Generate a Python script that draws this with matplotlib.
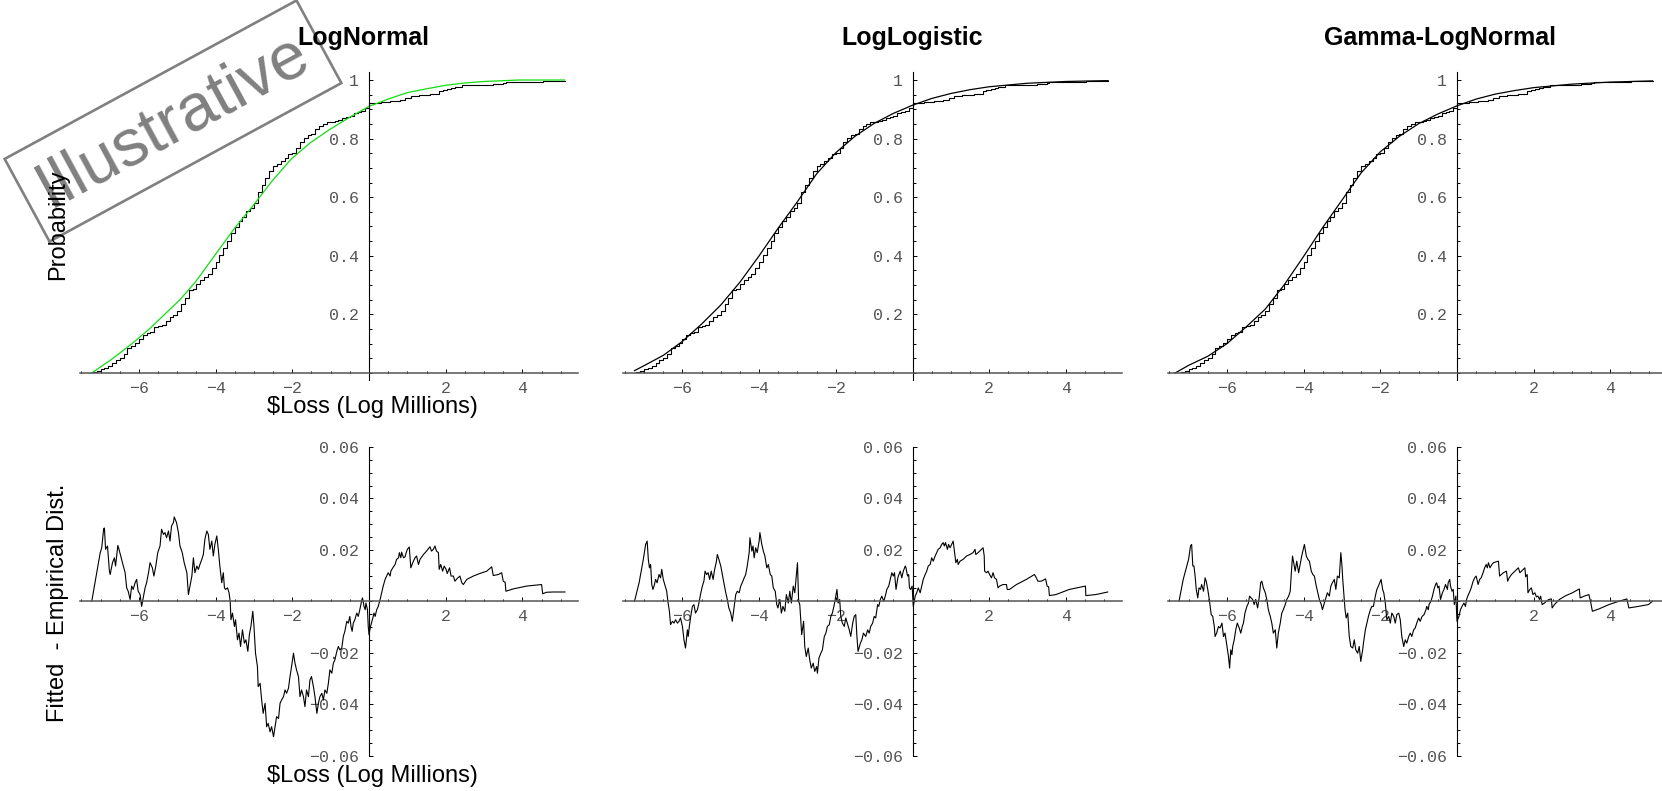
import numpy as np
import matplotlib.pyplot as plt
from matplotlib.ticker import MultipleLocator

W, H = 1662, 791

titles = ['LogNormal', 'LogLogistic', 'Gamma-LogNormal']
x_label = r'\$Loss (Log Millions)'
top_ylabel = 'Probability'
bottom_ylabel = 'Fitted  - Empirical Dist.'
watermark = 'Illustrative'

x_ticks = [-6, -4, -2, 2, 4]
x_ticklabels = ['\u22126', '\u22124', '\u22122', '2', '4']
top_yticks = [0.2, 0.4, 0.6, 0.8, 1.0]
top_yticklabels = ['0.2', '0.4', '0.6', '0.8', '1']
bottom_yticks = [-0.06, -0.04, -0.02, 0.02, 0.04, 0.06]
bottom_yticklabels = ['\u22120.06', '\u22120.04', '\u22120.02', '0.02', '0.04', '0.06']

# empirical distribution of the log losses (same sample in all three panels)
emp_x = [-7.2, -7.1, -7.0, -6.9, -6.8, -6.7, -6.6, -6.5, -6.4, -6.3,
         -6.2, -6.1, -6.0, -5.9, -5.8, -5.7, -5.6, -5.5, -5.4, -5.3,
         -5.2, -5.1, -5.0, -4.9, -4.8, -4.7, -4.6, -4.5, -4.4, -4.3,
         -4.2, -4.1, -4.0, -3.9, -3.8, -3.7, -3.6, -3.5, -3.4, -3.3,
         -3.2, -3.1, -3.0, -2.9, -2.8, -2.7, -2.6, -2.5, -2.4, -2.3,
         -2.2, -2.1, -2.0, -1.9, -1.8, -1.7, -1.6, -1.5, -1.4, -1.3,
         -1.2, -1.1, -1.0, -0.9, -0.8, -0.7, -0.6, -0.5, -0.4, -0.3,
         -0.2, -0.1, 0.0, 0.3, 0.55, 0.8, 0.95, 1.09, 1.3, 1.6,
         1.83, 1.92, 2.04, 2.14, 2.24, 2.42, 3.24, 3.5, 3.57, 4.53, 5.1]
emp_p = [0.003, 0.008, 0.012, 0.016, 0.024, 0.034, 0.044, 0.050, 0.065, 0.084,
         0.093, 0.102, 0.117, 0.130, 0.135, 0.140, 0.156, 0.159, 0.164, 0.178,
         0.192, 0.199, 0.213, 0.237, 0.257, 0.282, 0.286, 0.302, 0.316, 0.326,
         0.339, 0.360, 0.378, 0.403, 0.425, 0.449, 0.479, 0.499, 0.519, 0.533,
         0.554, 0.564, 0.580, 0.617, 0.642, 0.666, 0.688, 0.707, 0.715, 0.724,
         0.735, 0.749, 0.752, 0.767, 0.789, 0.802, 0.811, 0.815, 0.832, 0.842,
         0.850, 0.855, 0.858, 0.861, 0.865, 0.871, 0.873, 0.877, 0.886, 0.891,
         0.895, 0.905, 0.923, 0.925, 0.928, 0.933, 0.937, 0.946, 0.949, 0.953,
         0.962, 0.966, 0.971, 0.974, 0.977, 0.982, 0.987, 0.991, 0.994, 0.997, 0.997]

# fitted distribution functions
lognormal_x = [-7.23, -6.73, -6.18, -5.73, -5.33, -4.93, -4.53, -4.03, -3.53, -3.03,
               -2.53, -2.03, -1.54, -1.04, -0.54, 0.0, 0.5, 1.0, 1.5, 2.0,
               2.5, 3.0, 3.9, 5.1]
lognormal_p = [0.0, 0.045, 0.10, 0.15, 0.20, 0.25, 0.31, 0.40, 0.49, 0.57,
               0.655, 0.73, 0.785, 0.83, 0.87, 0.91, 0.935, 0.957, 0.97, 0.982,
               0.99, 0.995, 1.0, 1.0]
loglogistic_x = [-7.25, -7.0, -6.5, -6.0, -5.5, -5.0, -4.5, -4.0, -3.5, -3.0,
                 -2.5, -2.0, -1.5, -1.0, -0.5, 0.0, 0.5, 1.0, 1.5, 2.0,
                 3.0, 4.0, 5.1]
loglogistic_p = [0.008, 0.025, 0.06, 0.108, 0.167, 0.232, 0.31, 0.40, 0.495, 0.585,
                 0.68, 0.752, 0.808, 0.852, 0.886, 0.914, 0.937, 0.954, 0.967, 0.977,
                 0.989, 0.995, 0.998]
gamma_lognormal_x = [-7.35, -7.0, -6.5, -6.0, -5.5, -5.0, -4.5, -4.0, -3.5, -3.0,
                     -2.5, -2.0, -1.5, -1.0, -0.5, 0.0, 0.5, 1.0, 1.5, 2.0,
                     3.0, 4.0, 5.1]
gamma_lognormal_p = [0.0, 0.026, 0.057, 0.10, 0.157, 0.218, 0.302, 0.398, 0.497, 0.59,
                     0.683, 0.755, 0.808, 0.851, 0.884, 0.912, 0.935, 0.952, 0.964, 0.974,
                     0.986, 0.993, 0.997]

# fitted minus empirical, (x, difference)
lognormal_diff = np.array([
    (-7.23, 0.0), (-7.13, 0.0085), (-7.01, 0.0189), (-6.97, 0.0208), (-6.92, 0.0282),
    (-6.90, 0.0285), (-6.87, 0.0202), (-6.82, 0.0215), (-6.80, 0.0176), (-6.77, 0.0117),
    (-6.75, 0.0104), (-6.69, 0.0150), (-6.64, 0.0169), (-6.61, 0.0137), (-6.55, 0.0217),
    (-6.52, 0.0202), (-6.47, 0.0173), (-6.43, 0.0150), (-6.36, 0.0111), (-6.32, 0.0052),
    (-6.28, 0.0039), (-6.23, 0.0007), (-6.19, 0.0059), (-6.15, 0.0046), (-6.10, 0.0072),
    (-6.06, 0.0085), (-6.02, 0.0039), (-5.97, 0.0026), (-5.93, -0.0020), (-5.88, 0.0020),
    (-5.84, 0.0052), (-5.80, 0.0072), (-5.75, 0.0111), (-5.71, 0.0150), (-5.65, 0.0130),
    (-5.61, 0.0098), (-5.56, 0.0137), (-5.51, 0.0189), (-5.45, 0.0215), (-5.41, 0.0280),
    (-5.36, 0.0260), (-5.32, 0.0267), (-5.28, 0.0247), (-5.23, 0.0273), (-5.19, 0.0234),
    (-5.15, 0.0293), (-5.10, 0.0306), (-5.08, 0.0328), (-5.02, 0.0306), (-4.97, 0.0267),
    (-4.93, 0.0215), (-4.87, 0.0189), (-4.82, 0.0150), (-4.75, 0.0111), (-4.71, 0.0026),
    (-4.67, 0.0059), (-4.62, 0.0098), (-4.58, 0.0169), (-4.54, 0.0111), (-4.49, 0.0137),
    (-4.45, 0.0124), (-4.41, 0.0143), (-4.36, 0.0163), (-4.32, 0.0182), (-4.28, 0.0241),
    (-4.23, 0.0273), (-4.19, 0.0260), (-4.15, 0.0202), (-4.10, 0.0234), (-4.06, 0.0176),
    (-4.02, 0.0221), (-3.97, 0.0254), (-3.93, 0.0202), (-3.89, 0.0137), (-3.84, 0.0072),
    (-3.80, 0.0111), (-3.77, 0.0052), (-3.74, 0.0046), (-3.69, 0.0052), (-3.65, 0.0033),
    (-3.62, 0.0), (-3.60, -0.0072), (-3.56, -0.0046), (-3.51, -0.0098), (-3.48, -0.0072),
    (-3.43, -0.0150), (-3.39, -0.0124), (-3.35, -0.0176), (-3.30, -0.0111), (-3.25, -0.0163),
    (-3.21, -0.0150), (-3.16, -0.0195), (-3.12, -0.0130), (-3.08, -0.0098), (-3.03, -0.0039),
    (-3.00, -0.0098), (-2.96, -0.0202), (-2.91, -0.0254), (-2.89, -0.0332), (-2.84, -0.0319),
    (-2.80, -0.0384), (-2.76, -0.0436), (-2.71, -0.0397), (-2.67, -0.0488), (-2.63, -0.0475),
    (-2.58, -0.0508), (-2.54, -0.0488), (-2.49, -0.0527), (-2.45, -0.0488), (-2.41, -0.0449),
    (-2.36, -0.0456), (-2.32, -0.0397), (-2.28, -0.0384), (-2.23, -0.0371), (-2.19, -0.0345),
    (-2.15, -0.0358), (-2.10, -0.0338), (-2.06, -0.0293), (-2.02, -0.0254), (-1.97, -0.0202),
    (-1.93, -0.0241), (-1.89, -0.0267), (-1.84, -0.0293), (-1.80, -0.0371), (-1.76, -0.0345),
    (-1.71, -0.0371), (-1.67, -0.0410), (-1.63, -0.0345), (-1.58, -0.0371), (-1.54, -0.0306),
    (-1.50, -0.0293), (-1.45, -0.0332), (-1.41, -0.0371), (-1.36, -0.0436), (-1.32, -0.0397),
    (-1.28, -0.0371), (-1.23, -0.0358), (-1.19, -0.0384), (-1.15, -0.0345), (-1.10, -0.0358),
    (-1.06, -0.0319), (-1.02, -0.0267), (-0.97, -0.0280), (-0.93, -0.0241), (-0.89, -0.0228),
    (-0.84, -0.0195), (-0.80, -0.0176), (-0.76, -0.0189), (-0.71, -0.0182), (-0.67, -0.0137),
    (-0.63, -0.0117), (-0.58, -0.0078), (-0.54, -0.0085), (-0.50, -0.0059), (-0.47, -0.0098),
    (-0.44, -0.0117), (-0.41, -0.0085), (-0.37, -0.0072), (-0.32, -0.0046), (-0.28, -0.0059),
    (-0.24, -0.0033), (-0.19, 0.0004), (-0.17, 0.0013), (-0.13, -0.0020), (-0.10, -0.0033),
    (-0.08, -0.0007), (-0.04, -0.0033), (-0.02, -0.0098), (0.00, -0.0130), (0.04, -0.0098),
    (0.10, -0.0065), (0.13, -0.0046), (0.16, -0.0059), (0.20, -0.0033), (0.24, -0.0020),
    (0.29, 0.0007), (0.33, 0.0033), (0.37, 0.0059), (0.42, 0.0085), (0.46, 0.0098),
    (0.50, 0.0111), (0.55, 0.0098), (0.57, 0.0117), (0.62, 0.0130), (0.68, 0.0143),
    (0.72, 0.0163), (0.77, 0.0169), (0.79, 0.0189), (0.83, 0.0169), (0.85, 0.0191),
    (0.90, 0.0169), (0.94, 0.0173), (0.97, 0.0189), (1.00, 0.0202), (1.05, 0.0211),
    (1.09, 0.0130), (1.14, 0.0150), (1.20, 0.0169), (1.24, 0.0176), (1.29, 0.0143),
    (1.33, 0.0163), (1.42, 0.0182), (1.50, 0.0195), (1.59, 0.0212), (1.63, 0.0195),
    (1.68, 0.0202), (1.72, 0.0215), (1.76, 0.0195), (1.81, 0.0189), (1.83, 0.0124),
    (1.87, 0.0143), (1.92, 0.0117), (1.96, 0.0137), (2.01, 0.0124), (2.04, 0.0108),
    (2.10, 0.0130), (2.14, 0.0098), (2.20, 0.0098), (2.24, 0.0078), (2.29, 0.0087),
    (2.37, 0.0098), (2.42, 0.0072), (2.46, 0.0065), (2.55, 0.0085), (2.72, 0.0098),
    (2.89, 0.0108), (3.07, 0.0117), (3.20, 0.0134), (3.24, 0.0100), (3.37, 0.0104),
    (3.46, 0.0111), (3.50, 0.0078), (3.55, 0.0074), (3.57, 0.0039), (3.76, 0.0048),
    (4.11, 0.0059), (4.50, 0.0065), (4.53, 0.0029), (4.63, 0.0035), (4.81, 0.0036),
    (5.11, 0.0036)])

loglogistic_diff = np.array([
    (-7.25, 0.0), (-7.13, 0.0072), (-7.02, 0.0163), (-6.96, 0.0221), (-6.92, 0.0234),
    (-6.89, 0.0163), (-6.86, 0.0130), (-6.83, 0.0143), (-6.80, 0.0065), (-6.77, 0.0046),
    (-6.74, 0.0059), (-6.70, 0.0085), (-6.66, 0.0072), (-6.61, 0.0104), (-6.57, 0.0091),
    (-6.54, 0.0124), (-6.50, 0.0085), (-6.46, 0.0065), (-6.41, 0.0039), (-6.38, 0.0),
    (-6.34, -0.0039), (-6.31, -0.0091), (-6.26, -0.0078), (-6.22, -0.0085), (-6.18, -0.0072),
    (-6.13, -0.0085), (-6.09, -0.0078), (-6.05, -0.0065), (-6.00, -0.0098), (-5.96, -0.0150),
    (-5.92, -0.0182), (-5.87, -0.0111), (-5.85, -0.0137), (-5.82, -0.0098), (-5.79, -0.0065),
    (-5.74, -0.0020), (-5.70, -0.0013), (-5.66, -0.0046), (-5.61, -0.0033), (-5.57, -0.0007),
    (-5.52, 0.0033), (-5.48, 0.0059), (-5.44, 0.0078), (-5.41, 0.0117), (-5.37, 0.0104),
    (-5.33, 0.0111), (-5.29, 0.0085), (-5.25, 0.0117), (-5.20, 0.0085), (-5.16, 0.0124),
    (-5.12, 0.0150), (-5.09, 0.0182), (-5.05, 0.0163), (-5.00, 0.0137), (-4.96, 0.0104),
    (-4.92, 0.0072), (-4.87, 0.0033), (-4.83, 0.0007), (-4.79, -0.0026), (-4.74, -0.0046),
    (-4.70, -0.0078), (-4.65, -0.0020), (-4.61, 0.0026), (-4.57, 0.0039), (-4.52, 0.0033),
    (-4.48, 0.0059), (-4.44, 0.0072), (-4.39, 0.0091), (-4.35, 0.0104), (-4.31, 0.0137),
    (-4.26, 0.0189), (-4.24, 0.0247), (-4.19, 0.0195), (-4.16, 0.0215), (-4.13, 0.0169),
    (-4.09, 0.0208), (-4.05, 0.0189), (-4.00, 0.0234), (-3.98, 0.0267), (-3.93, 0.0221),
    (-3.89, 0.0195), (-3.85, 0.0176), (-3.80, 0.0130), (-3.76, 0.0143), (-3.71, 0.0104),
    (-3.67, 0.0098), (-3.63, 0.0052), (-3.58, 0.0039), (-3.54, -0.0013), (-3.51, -0.0026),
    (-3.46, 0.0007), (-3.42, -0.0046), (-3.38, -0.0020), (-3.33, -0.0039), (-3.29, 0.0026),
    (-3.24, -0.0007), (-3.20, 0.0039), (-3.16, -0.0007), (-3.11, 0.0059), (-3.07, 0.0033),
    (-3.03, 0.0098), (-3.00, 0.0150), (-2.97, 0.0), (-2.94, -0.0013), (-2.91, -0.0085),
    (-2.89, -0.0130), (-2.84, -0.0078), (-2.81, -0.0176), (-2.77, -0.0215), (-2.72, -0.0182),
    (-2.68, -0.0228), (-2.64, -0.0260), (-2.59, -0.0241), (-2.55, -0.0273), (-2.50, -0.0254),
    (-2.48, -0.0280), (-2.44, -0.0221), (-2.39, -0.0202), (-2.35, -0.0189), (-2.30, -0.0137),
    (-2.26, -0.0124), (-2.22, -0.0098), (-2.17, -0.0091), (-2.13, -0.0059), (-2.09, -0.0046),
    (-2.04, -0.0013), (-2.00, 0.0020), (-1.97, 0.0046), (-1.94, -0.0007), (-1.90, 0.0007),
    (-1.87, -0.0059), (-1.83, -0.0085), (-1.78, -0.0098), (-1.74, -0.0065), (-1.70, -0.0085),
    (-1.65, -0.0111), (-1.61, -0.0137), (-1.56, -0.0085), (-1.52, -0.0059), (-1.48, -0.0052),
    (-1.45, -0.0137), (-1.42, -0.0195), (-1.36, -0.0163), (-1.32, -0.0150), (-1.28, -0.0124),
    (-1.22, -0.0137), (-1.17, -0.0111), (-1.13, -0.0124), (-1.09, -0.0098), (-1.04, -0.0085),
    (-1.00, -0.0059), (-0.96, -0.0065), (-0.91, -0.0013), (-0.88, -0.0020), (-0.84, 0.0007),
    (-0.80, 0.0020), (-0.75, 0.0), (-0.71, 0.0020), (-0.67, 0.0046), (-0.62, 0.0059),
    (-0.58, 0.0085), (-0.54, 0.0111), (-0.50, 0.0098), (-0.47, 0.0111), (-0.43, 0.0046),
    (-0.39, 0.0085), (-0.37, 0.0098), (-0.32, 0.0117), (-0.28, 0.0091), (-0.24, 0.0117),
    (-0.19, 0.0137), (-0.17, 0.0130), (-0.13, 0.0098), (-0.10, 0.0104), (-0.08, 0.0052),
    (-0.05, 0.0046), (-0.01, 0.0059), (0.02, -0.0020), (0.07, 0.0020), (0.11, 0.0033),
    (0.15, 0.0052), (0.20, 0.0033), (0.24, 0.0059), (0.28, 0.0085), (0.33, 0.0104),
    (0.37, 0.0117), (0.41, 0.0137), (0.46, 0.0143), (0.50, 0.0169), (0.54, 0.0156),
    (0.59, 0.0176), (0.63, 0.0189), (0.67, 0.0202), (0.72, 0.0208), (0.76, 0.0221),
    (0.80, 0.0228), (0.83, 0.0215), (0.86, 0.0228), (0.91, 0.0202), (0.94, 0.0221),
    (0.98, 0.0208), (1.02, 0.0221), (1.06, 0.0234), (1.11, 0.0176), (1.13, 0.0150),
    (1.17, 0.0163), (1.19, 0.0143), (1.24, 0.0156), (1.32, 0.0163), (1.41, 0.0176),
    (1.50, 0.0182), (1.58, 0.0189), (1.63, 0.0202), (1.65, 0.0182), (1.71, 0.0189),
    (1.80, 0.0202), (1.84, 0.0208), (1.87, 0.0176), (1.88, 0.0117), (1.93, 0.0111),
    (1.97, 0.0117), (2.01, 0.0104), (2.06, 0.0091), (2.10, 0.0111), (2.14, 0.0091),
    (2.19, 0.0085), (2.23, 0.0052), (2.27, 0.0059), (2.36, 0.0065), (2.45, 0.0065),
    (2.47, 0.0046), (2.53, 0.0046), (2.71, 0.0065), (2.97, 0.0085), (3.18, 0.0104),
    (3.23, 0.0091), (3.27, 0.0078), (3.36, 0.0078), (3.47, 0.0087), (3.51, 0.0059),
    (3.55, 0.0056), (3.57, 0.0022), (3.74, 0.0026), (4.09, 0.0046), (4.51, 0.0059),
    (4.52, 0.0022), (4.78, 0.0026), (5.09, 0.0036)])

gamma_lognormal_diff = np.array([
    (-7.25, 0.0), (-7.14, 0.0085), (-7.00, 0.0163), (-6.95, 0.0215), (-6.92, 0.0221),
    (-6.89, 0.0137), (-6.86, 0.0137), (-6.83, 0.0098), (-6.80, 0.0046), (-6.76, 0.0013),
    (-6.73, 0.0052), (-6.69, 0.0046), (-6.66, 0.0065), (-6.61, 0.0039), (-6.57, 0.0091),
    (-6.54, 0.0078), (-6.50, 0.0046), (-6.46, 0.0007), (-6.41, -0.0052), (-6.37, -0.0059),
    (-6.33, -0.0098), (-6.31, -0.0137), (-6.27, -0.0124), (-6.22, -0.0098), (-6.18, -0.0104),
    (-6.13, -0.0085), (-6.09, -0.0137), (-6.05, -0.0124), (-6.00, -0.0176), (-5.96, -0.0215),
    (-5.93, -0.0260), (-5.90, -0.0189), (-5.87, -0.0208), (-5.85, -0.0176), (-5.81, -0.0150),
    (-5.77, -0.0111), (-5.73, -0.0085), (-5.68, -0.0104), (-5.64, -0.0124), (-5.60, -0.0098),
    (-5.57, -0.0085), (-5.53, -0.0046), (-5.48, -0.0020), (-5.44, -0.0007), (-5.41, 0.0020),
    (-5.37, 0.0013), (-5.33, 0.0007), (-5.29, -0.0013), (-5.25, 0.0007), (-5.20, -0.0026),
    (-5.16, 0.0013), (-5.12, 0.0072), (-5.09, 0.0078), (-5.05, 0.0052), (-5.00, 0.0033),
    (-4.96, 0.0007), (-4.92, -0.0033), (-4.87, -0.0059), (-4.83, -0.0085), (-4.79, -0.0124),
    (-4.74, -0.0111), (-4.70, -0.0182), (-4.66, -0.0124), (-4.61, -0.0085), (-4.57, -0.0046),
    (-4.53, -0.0033), (-4.48, -0.0013), (-4.44, 0.0007), (-4.39, 0.0020), (-4.35, 0.0039),
    (-4.32, 0.0111), (-4.29, 0.0176), (-4.26, 0.0150), (-4.22, 0.0117), (-4.18, 0.0156),
    (-4.13, 0.0111), (-4.09, 0.0143), (-4.05, 0.0176), (-4.00, 0.0208), (-3.98, 0.0221),
    (-3.93, 0.0176), (-3.89, 0.0163), (-3.85, 0.0156), (-3.80, 0.0117), (-3.76, 0.0104),
    (-3.72, 0.0098), (-3.67, 0.0059), (-3.63, 0.0033), (-3.59, 0.0007), (-3.54, -0.0013),
    (-3.51, -0.0033), (-3.46, -0.0007), (-3.42, 0.0013), (-3.38, 0.0033), (-3.33, 0.0020),
    (-3.29, 0.0059), (-3.25, 0.0072), (-3.20, 0.0085), (-3.16, 0.0046), (-3.12, 0.0098),
    (-3.07, 0.0091), (-3.03, 0.0189), (-3.00, 0.0137), (-2.98, 0.0085), (-2.94, 0.0007),
    (-2.92, -0.0033), (-2.89, -0.0065), (-2.85, -0.0046), (-2.81, -0.0137), (-2.77, -0.0176),
    (-2.72, -0.0182), (-2.68, -0.0150), (-2.64, -0.0189), (-2.59, -0.0202), (-2.55, -0.0176),
    (-2.51, -0.0234), (-2.46, -0.0189), (-2.44, -0.0163), (-2.39, -0.0111), (-2.35, -0.0085),
    (-2.31, -0.0059), (-2.26, -0.0033), (-2.22, -0.0020), (-2.18, -0.0020), (-2.13, 0.0020),
    (-2.09, 0.0046), (-2.05, 0.0059), (-2.00, 0.0078), (-1.98, 0.0085), (-1.94, 0.0046),
    (-1.91, 0.0033), (-1.87, -0.0007), (-1.83, -0.0072), (-1.78, -0.0059), (-1.74, -0.0085),
    (-1.70, -0.0046), (-1.65, -0.0059), (-1.61, -0.0085), (-1.57, -0.0052), (-1.52, -0.0046),
    (-1.48, -0.0072), (-1.44, -0.0137), (-1.39, -0.0176), (-1.35, -0.0150), (-1.31, -0.0163),
    (-1.26, -0.0137), (-1.22, -0.0124), (-1.18, -0.0137), (-1.13, -0.0111), (-1.09, -0.0104),
    (-1.05, -0.0085), (-1.00, -0.0065), (-0.96, -0.0078), (-0.91, -0.0059), (-0.86, -0.0052),
    (-0.81, -0.0033), (-0.79, -0.0020), (-0.75, -0.0033), (-0.73, -0.0013), (-0.68, 0.0),
    (-0.64, 0.0020), (-0.60, 0.0046), (-0.56, 0.0065), (-0.53, 0.0072), (-0.50, 0.0052),
    (-0.47, 0.0059), (-0.43, 0.0007), (-0.38, 0.0033), (-0.34, 0.0046), (-0.30, 0.0065),
    (-0.25, 0.0046), (-0.23, 0.0072), (-0.19, 0.0085), (-0.17, 0.0059), (-0.13, 0.0039),
    (-0.10, 0.0046), (-0.07, -0.0013), (-0.03, 0.0020), (0.00, -0.0078), (0.05, -0.0059),
    (0.09, -0.0033), (0.13, -0.0020), (0.18, -0.0007), (0.22, -0.0020), (0.25, 0.0007),
    (0.28, 0.0020), (0.32, 0.0033), (0.37, 0.0052), (0.42, 0.0078), (0.46, 0.0091),
    (0.50, 0.0098), (0.55, 0.0065), (0.59, 0.0085), (0.63, 0.0091), (0.68, 0.0111),
    (0.72, 0.0130), (0.76, 0.0143), (0.79, 0.0130), (0.82, 0.0150), (0.86, 0.0130),
    (0.91, 0.0143), (0.95, 0.0150), (0.99, 0.0152), (1.08, 0.0156), (1.11, 0.0098),
    (1.21, 0.0111), (1.29, 0.0117), (1.32, 0.0078), (1.36, 0.0091), (1.42, 0.0104),
    (1.51, 0.0117), (1.60, 0.0130), (1.64, 0.0111), (1.68, 0.0117), (1.77, 0.0130),
    (1.79, 0.0095), (1.83, 0.0104), (1.85, 0.0033), (1.90, 0.0046), (1.94, 0.0052),
    (1.98, 0.0026), (2.03, 0.0033), (2.07, 0.0017), (2.11, 0.0020), (2.15, 0.0007),
    (2.18, 0.0020), (2.22, -0.0013), (2.28, -0.0007), (2.33, 0.0), (2.40, 0.0007),
    (2.46, 0.0009), (2.48, -0.0026), (2.54, -0.0013), (2.67, 0.0007), (2.84, 0.0022),
    (3.01, 0.0033), (3.19, 0.0048), (3.21, 0.0013), (3.32, 0.0020), (3.44, 0.0026),
    (3.49, -0.0007), (3.53, -0.0039), (3.70, -0.0030), (3.96, -0.0013), (4.22, 0.0),
    (4.43, 0.0009), (4.48, -0.0026), (4.73, -0.0020), (4.99, -0.0013), (5.04, -0.0007),
    (5.10, 0.0)])

fits = [(lognormal_x, lognormal_p, '#11dd11'),
        (loglogistic_x, loglogistic_p, 'black'),
        (gamma_lognormal_x, gamma_lognormal_p, 'black')]
diffs = [lognormal_diff, loglogistic_diff, gamma_lognormal_diff]

# layout measured on the reference, in pixels
panel_left = [79.5, 623, 1167.5]
panel_width = 498.5
top_box = (72.4, 380.0)
bottom_box = (447.0, 755.5)
xlim = (-7.55, 5.45)


def frac(x, y):
    return x / W, 1 - y / H


def style(ax, yticks, ylabels, yminor):
    ax.set_xlim(xlim)
    ax.patch.set_visible(False)
    for s in ('top', 'right'):
        ax.spines[s].set_visible(False)
    ax.spines['left'].set_position('zero')
    ax.spines['bottom'].set_position('zero')
    ax.spines['left'].set_linewidth(0.8)
    ax.spines['bottom'].set_linewidth(1.1)
    ax.spines['bottom'].set_color('#555555')
    ax.set_xticks(x_ticks, x_ticklabels)
    ax.set_yticks(yticks, ylabels)
    ax.xaxis.set_minor_locator(MultipleLocator(0.5))
    ax.yaxis.set_minor_locator(MultipleLocator(yminor))
    ax.tick_params(which='both', direction='in', width=0.7, colors='black',
                   labelcolor='#555555', labelsize=12,
                   labelfontfamily='Liberation Mono')
    ax.tick_params(which='major', length=3.2)
    ax.tick_params(which='minor', length=1.8)
    ax.tick_params(axis='x', pad=5.5)
    ax.tick_params(axis='y', pad=7)


fig = plt.figure(figsize=(W / 100, H / 100), dpi=100)

for i in range(3):
    l = panel_left[i] / W
    w = panel_width / W

    ax = fig.add_axes([l, 1 - top_box[1] / H, w, (top_box[1] - top_box[0]) / H])
    style(ax, top_yticks, top_yticklabels, 0.05)
    ax.set_ylim(-0.024, 1.026)
    ax.step(emp_x, emp_p, where='post', color='black', lw=0.8)
    fx, fp, fc = fits[i]
    ax.plot(fx, fp, color=fc, lw=0.9)

    bx = fig.add_axes([l, 1 - bottom_box[1] / H, w, (bottom_box[1] - bottom_box[0]) / H])
    style(bx, bottom_yticks, bottom_yticklabels, 0.005)
    bx.set_ylim(-0.06, 0.06)
    bx.plot(diffs[i][:, 0], diffs[i][:, 1], color='black', lw=0.8)

# titles and axis labels
title_x = [363, 912, 1440]
for t, tx in zip(titles, title_x):
    fig.text(*frac(tx, 45), t, ha='center', va='baseline', fontsize=18,
             fontweight='bold', family='Liberation Sans', zorder=3)

fig.text(*frac(372, 413), x_label, ha='center', va='baseline', fontsize=17,
         family='Liberation Sans', zorder=3)
fig.text(*frac(372, 782), x_label, ha='center', va='baseline', fontsize=17,
         family='Liberation Sans', zorder=3)
fig.text(*frac(58, 225), top_ylabel, rotation=90, ha='center', va='center',
         fontsize=17, family='Liberation Sans', zorder=3)
fig.text(*frac(58, 603), bottom_ylabel, rotation=90, ha='center', va='center',
         fontsize=17, family='Liberation Sans', zorder=3)

# grey stamp over the first panel
fig.text(*frac(173, 121), watermark, rotation=28.5, rotation_mode='anchor',
         ha='center', va='center', fontsize=48, color='#808080',
         family='Liberation Sans', zorder=1,
         bbox=dict(boxstyle='square,pad=0.24', fc='none', ec='#808080', lw=1.9))

fig.savefig('out.png', dpi=100)
